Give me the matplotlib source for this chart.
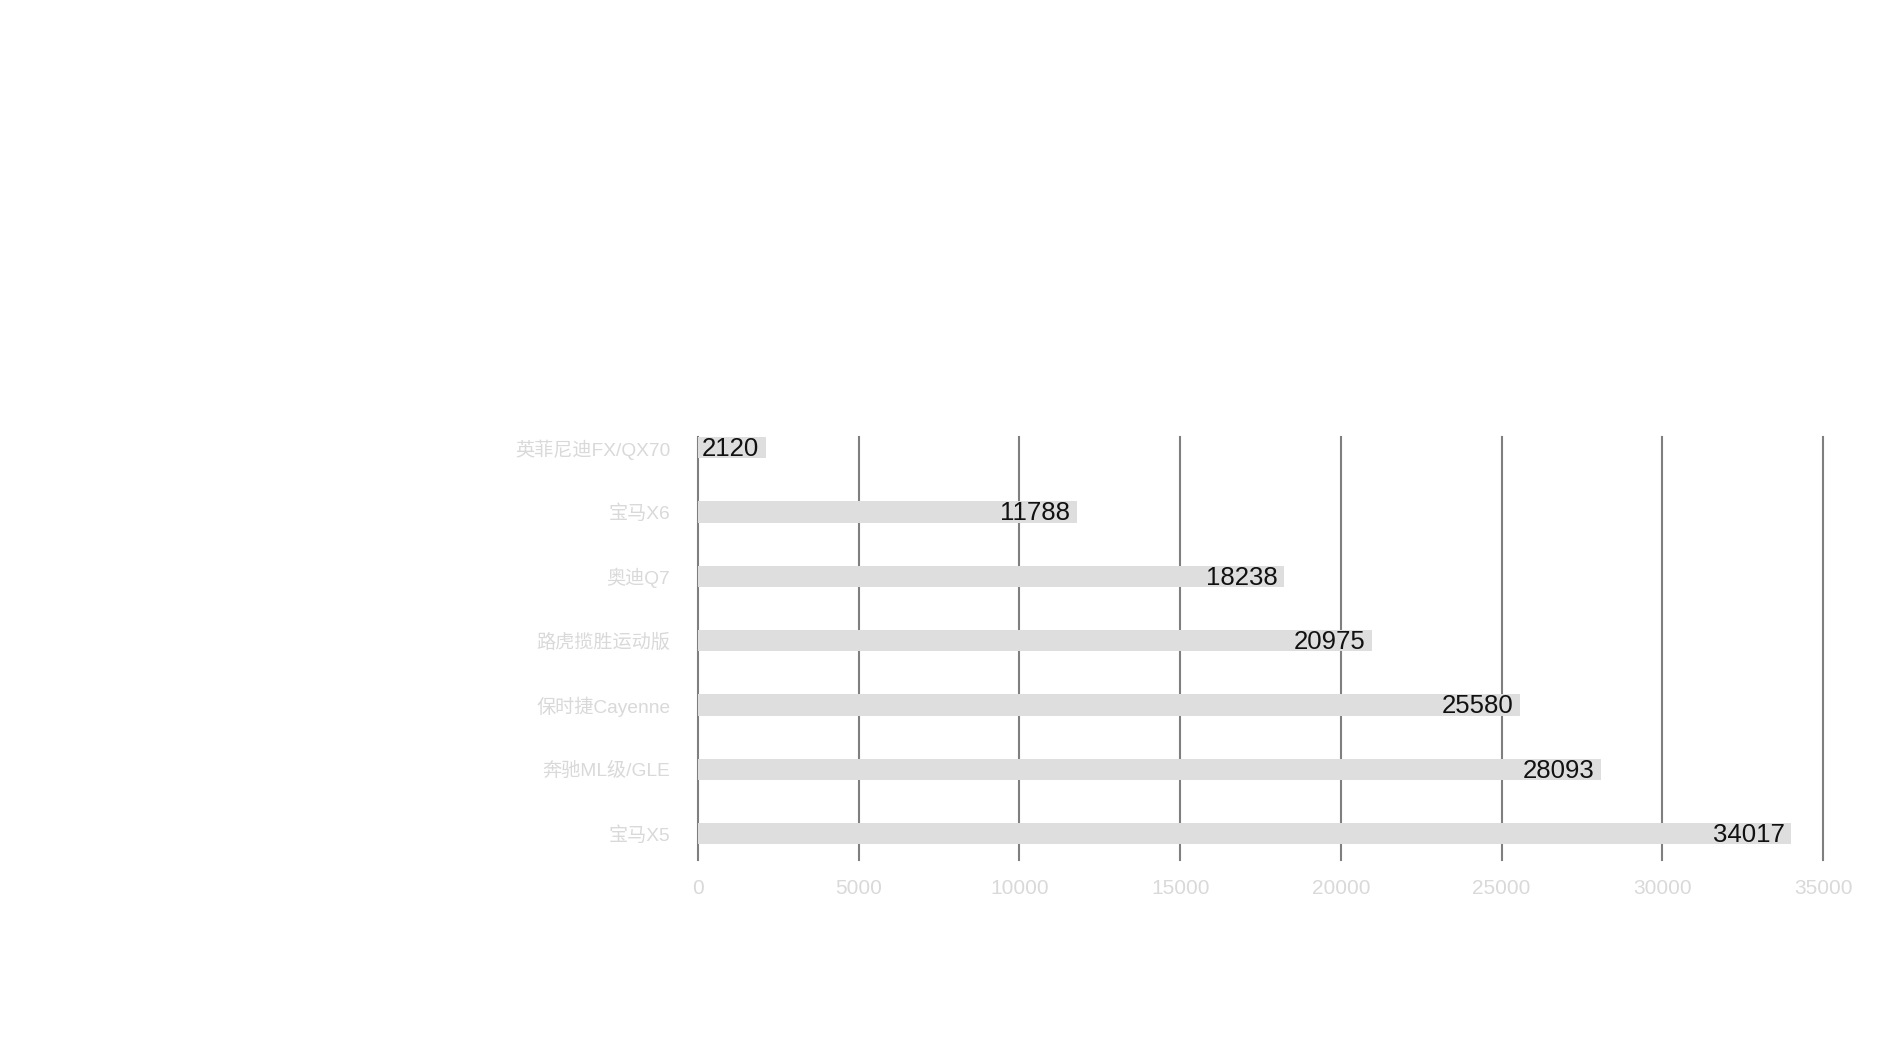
import matplotlib
matplotlib.use('Agg')
import matplotlib.pyplot as plt

# chart data
models = ['英菲尼迪FX/QX70', '宝马X6', '奥迪Q7', '路虎揽胜运动版',
          '保时捷Cayenne', '奔驰ML级/GLE', '宝马X5']
sales = [2120, 11788, 18238, 20975, 25580, 28093, 34017]
x_ticks = [0, 5000, 10000, 15000, 20000, 25000, 30000, 35000]

FONTS = ['Liberation Sans', 'Noto Sans CJK SC', 'DejaVu Sans']
plt.rcParams['font.family'] = FONTS

BAR_COLOR = '#dedede'
LABEL_GRAY = '#d9d9d9'
GRID_GRAY = '#7f7f7f'

fig = plt.figure(figsize=(18.9, 10.63), dpi=100)
ax = fig.add_axes([0.3693, 0.1910, 0.5953, 0.3979])

ypos = list(range(len(models)))
ax.barh(ypos, sales, height=0.33, color=BAR_COLOR, zorder=2)

for y, v in zip(ypos, sales):
    ax.annotate(str(v), xy=(v, y), xytext=(-5, -1), textcoords='offset points',
                ha='right', va='center', fontsize=18.5, color='#111111', zorder=3)

ax.set_xlim(0, 35000)
ax.set_ylim(6.41, -0.165)
ax.set_xticks(x_ticks)
ax.set_xticklabels([str(t) for t in x_ticks])
ax.set_yticks(ypos)
ax.set_yticklabels(models)

ax.tick_params(axis='x', length=0, pad=14, labelsize=15, labelcolor=LABEL_GRAY)
ax.tick_params(axis='y', length=0, pad=20, labelsize=13.8, labelcolor=LABEL_GRAY)

ax.grid(True, axis='x', color=GRID_GRAY, linewidth=1.5, zorder=1)
ax.grid(False, axis='y')
for gl in ax.get_xgridlines():
    gl.set_clip_on(False)
for s in ax.spines.values():
    s.set_visible(False)

fig.savefig('out.png', dpi=100, facecolor='white')
